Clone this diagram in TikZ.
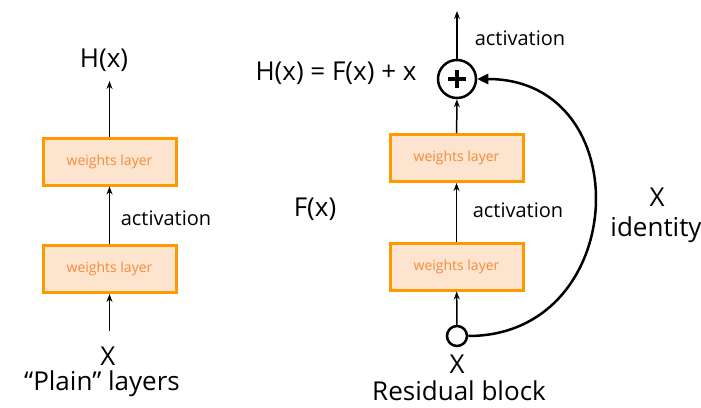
\documentclass[tikz,border=0pt]{standalone}
\usepackage{fontspec}
\setmainfont{Open Sans}
\usetikzlibrary{arrows.meta}
\definecolor{wborder}{RGB}{255,153,0}
\definecolor{wfill}{RGB}{252,228,206}
\definecolor{wtext}{RGB}{245,140,60}

\begin{document}
\begin{tikzpicture}[x=1pt, y=-1pt, line width=1.5pt, >={Stealth[length=8pt,width=6pt]},
  wlayer/.style={draw=wborder, fill=wfill, line width=3pt, minimum width=133pt, minimum height=47pt,
    text=wtext, font=\fontsize{14}{16}\selectfont, inner sep=0pt},
  big/.style={font=\fontsize{26}{30}\selectfont, inner sep=0pt},
  mid/.style={font=\fontsize{20}{24}\selectfont, inner sep=0pt}]
  \useasboundingbox (0,0) rectangle (701,407);
  % plain layers
  \node[wlayer] (pw1) at (109.5,161.5) {weights layer};
  \node[wlayer] (pw2) at (109.5,269) {weights layer};
  \node[big] (pH) at (104,60) {H(x)};
  \coordinate (pin) at (109.5,331);
  \node[big] (pX) at (108,356) {X};
  \node[big] (pname) at (102,384) {“Plain” layers};
  \draw[->] (pw1) -- (109.5,81);
  \draw[->] (pw2) -- (pw1);
  \draw[->] (pin) -- (pw2);
  \node[mid] (pact) at (166,218) {activation};
  % residual block
  \node[wlayer] (rw1) at (456.5,158) {weights layer};
  \node[wlayer] (rw2) at (456.5,266.5) {weights layer};
  \node[draw, circle, line width=2.5pt, minimum size=38pt, inner sep=0pt] (plus) at (457,79) {};
  \draw[line width=4pt] ([xshift=-9pt]plus.center) -- ([xshift=9pt]plus.center)
    ([yshift=-9pt]plus.center) -- ([yshift=9pt]plus.center);
  \node[draw, circle, line width=2.5pt, minimum size=20pt, inner sep=0pt] (rin) at (457,336) {};
  \coordinate (rout) at (457,11);
  \draw[->] (rin) -- (rw2);
  \draw[->] (rw2) -- (rw1);
  \draw[->] (rw1) -- (plus);
  \draw[->] (plus) -- (rout);
  \draw[line width=2.5pt, -{Triangle[length=11pt,width=10pt]}] (rin.east)
    .. controls (630,336) and (640,79) .. (plus.east);
  \node[big] (hsum) at (336,73) {H(x) = F(x) + x};
  \node[mid] (ract1) at (520,38) {activation};
  \node[mid] (ract2) at (518,210) {activation};
  \node[big] (fx) at (315,209) {F(x)};
  \node[big] (idx) at (657,197) {X};
  \node[big] (idname) at (656,230) {identity};
  \node[big] (rX) at (457,364) {X};
  \node[big] (rname) at (459,391) {Residual block};
\end{tikzpicture}
\end{document}
